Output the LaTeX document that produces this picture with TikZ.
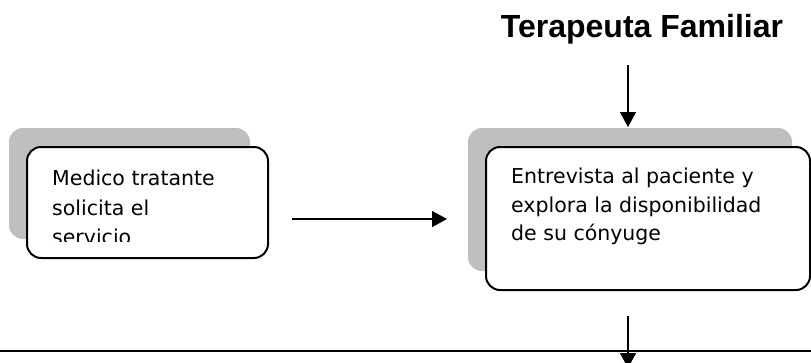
\documentclass[tikz,border=0pt]{standalone}
\usepackage{fontspec}
\setmainfont{DejaVu Sans}
\newfontfamily\titulofont{Liberation Sans}
\usepackage{tikz}
\usetikzlibrary{arrows.meta, shadows}
\tikzstyle{caja} = [rectangle, rounded corners=14pt, draw=black, line width=2pt, fill=white, inner sep=0pt, drop shadow={shadow xshift=-18pt, shadow yshift=19pt, fill=black!25, opacity=1}]
\tikzstyle{texto} = [anchor=north west, inner sep=0pt, align=left, font=\fontsize{20.5}{29.5}\selectfont]
\tikzstyle{titulo} = [inner sep=0pt, anchor=base, font=\titulofont\bfseries\fontsize{32}{38}\selectfont]
\tikzstyle{flecha} = [line width=1.5pt, -{Triangle[width=16pt,length=15pt]}]

\begin{document}
\begin{tikzpicture}[x=1pt, y=-1pt]
			\useasboundingbox (0,0) rectangle (811,362);
			\node (terapeuta) [titulo] at (642,37) {Terapeuta Familiar};
			\node (medico) [caja, minimum width=241pt, minimum height=111pt] at (147.5,202.5) {};
			\node (entrevista) [caja, minimum width=324pt, minimum height=143pt] at (648,218.5) {};
			\begin{scope}
				\clip (medico.north west) rectangle ([yshift=-95pt]medico.north east);
				\node (medicotxt) [texto] at ([shift={(26pt,-24pt)}]medico.north west) {Medico tratante\\solicita el\\servicio};
			\end{scope}
			\node (entrevistatxt) [texto, font=\fontsize{20.5}{28.5}\selectfont] at ([shift={(26pt,-22pt)}]entrevista.north west) {Entrevista al paciente y\\explora la disponibilidad\\de su cónyuge};
			\coordinate (izq) at (0,351);
			\coordinate (der) at (811,351);
			\draw [line width=2.5pt] (izq) -- (der);
			\draw [flecha, shorten <=21pt, shorten >=19pt] ([xshift=-14pt]terapeuta.south) -- ([xshift=-14pt]terapeuta.south |- entrevista.north);
			\draw [flecha, shorten <=23pt, shorten >=38pt] ([yshift=-16.5pt]medico.east) -- ([yshift=-16.5pt]medico.east -| entrevista.west);
			\draw [flecha, shorten <=25pt] ([xshift=-20pt]entrevista.south) -- ++(0,77);
		\end{tikzpicture}
\end{document}
